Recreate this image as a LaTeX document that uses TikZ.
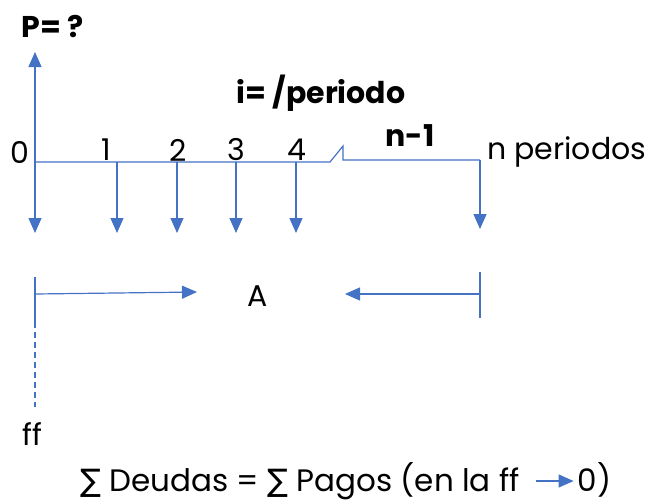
\documentclass[tikz,border=0pt]{standalone}
\usepackage{fontspec}
\setmainfont{Poppins}
\newfontfamily\dvsans{DejaVu Sans}
\usetikzlibrary{arrows.meta,positioning}
\definecolor{FlowBlue}{HTML}{4472C4}

\tikzset{
  axis/.style={draw=FlowBlue, line width=1.2pt},
  flow/.style={axis, -{Triangle[width=13pt,length=15pt]}},
  txt/.style={inner sep=0pt, font=\fontsize{30}{34}\selectfont},
  bold/.style={txt, font=\fontsize{30}{34}\selectfont\bfseries},
}

\begin{document}
\begin{tikzpicture}[x=1pt, y=-1pt]
    \useasboundingbox (0,0) rectangle (652,501);

    % time line
    \coordinate (o) at (35,162);
    \coordinate (up) at (35,52);
    \coordinate (dn) at (35,233);
    \coordinate (b1) at (330,162);
    \coordinate (b2) at (343,146);
    \coordinate (b3) at (343,160);
    \coordinate (tn) at (480,160);
    \coordinate (dnn) at (480,229);
    \draw[axis] (o) -- (b1) -- (b2) -- (b3) -- (tn);
    \draw[flow] (o) -- (up);
    \draw[flow] (o) -- (dn);
    \draw[flow] (tn) -- (dnn);
    \foreach \k/\x/\lx in {1/117/106, 2/177/178, 3/236/236, 4/296/297} {
      \coordinate (t\k) at (\x,162);
      \coordinate (d\k) at (\x,233);
      \draw[flow] (t\k) -- (d\k);
      \node[txt] (l\k) at (\lx,150) {\k};
    }

    % labels
    \node[txt] (l0) at (20,152) {0};
    \node[txt, anchor=west] (per) at (487,152) {n periodos};
    \node[bold] (pval) at (53,27) {P= ?};
    \node[bold] (rate) at (321,93) {i= /periodo};
    \node[bold] (nm1) at (410,136) {n-1};

    % annuity bracket
    \node[txt] (ann) at (258,296) {A};
    \coordinate (la) at (35,277);
    \coordinate (lb) at (35,322);
    \coordinate (lc) at (35,407);
    \coordinate (lt) at (197,292);
    \coordinate (ra) at (480,272);
    \coordinate (rb) at (480,318);
    \coordinate (rt) at (345,294);
    \draw[axis] (la) -- (lb);
    \draw[axis, dash pattern=on 6pt off 4pt] (lb) -- (lc);
    \draw[flow] (35,294) -- (lt);
    \draw[axis] (ra) -- (rb);
    \draw[flow] (480,294) -- (rt);
    \node[txt] (ff) at (32,434) {ff};

    % balance
    \node[txt, font=\fontsize{31}{35}\selectfont, anchor=base west] (eq) at (80,491)
      {{\dvsans ∑} Deudas = {\dvsans ∑} Pagos (en la ff};
    \coordinate (ea) at ([xshift=16pt, yshift=10pt]eq.base east);
    \coordinate (eb) at ([xshift=54pt, yshift=10pt]eq.base east);
    \draw[flow] (ea) -- (eb);
    \node[txt, font=\fontsize{31}{35}\selectfont, anchor=base west] (zero) at ([xshift=58pt]eq.base east) {0)};
\end{tikzpicture}
\end{document}
